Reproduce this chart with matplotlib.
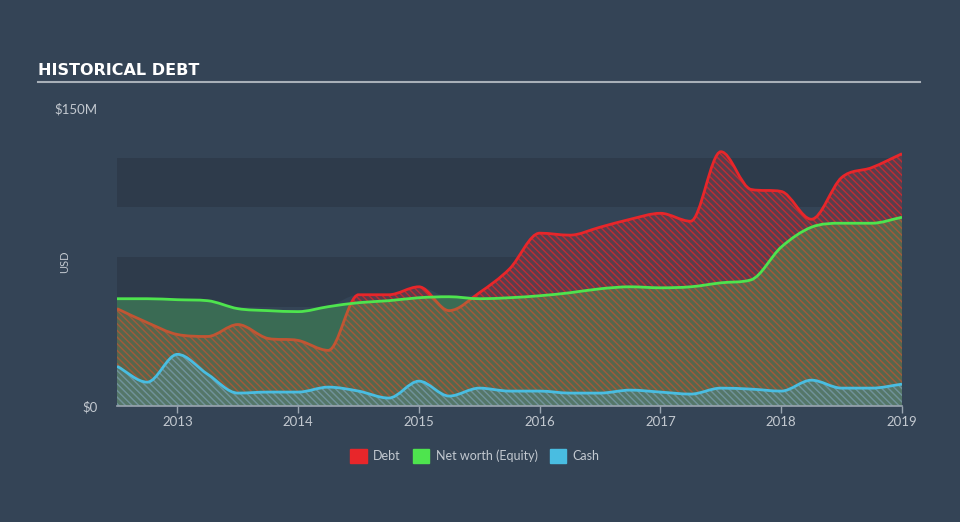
import matplotlib
matplotlib.use("Agg")
import matplotlib.pyplot as plt
import numpy as np
from matplotlib.path import Path
from matplotlib.patches import PathPatch, Patch

# quarterly readings, $M
dates = [2012.5, 2012.75, 2013.0, 2013.25, 2013.5, 2013.75, 2014.0, 2014.25, 2014.5,
         2014.75, 2015.0, 2015.25, 2015.5, 2015.75, 2016.0, 2016.25, 2016.5, 2016.75,
         2017.0, 2017.25, 2017.5, 2017.75, 2018.0, 2018.25, 2018.5, 2018.75, 2019.0]
debt = [49, 42, 36, 35, 41, 34, 33, 28, 56, 56, 60, 48, 57, 69, 87, 86, 90, 94,
        97, 93, 128, 109, 108, 94, 115, 120, 127]
equity = [54, 54, 53.5, 53, 49, 48, 47.5, 50, 52, 53, 54.5, 55, 54, 54.5, 55.5, 57,
          59, 60, 59.5, 60, 62, 63.5, 80, 90, 92, 92, 95]
cash = [20, 12, 26, 16, 6.5, 7, 7, 9.5, 7.5, 4, 12.5, 5, 9, 7.5, 7.5, 6.5, 6.5, 8,
        7, 6, 9, 8.5, 7.5, 13, 9, 9, 11]
years = [2013, 2014, 2015, 2016, 2017, 2018, 2019]
series_names = ["Debt", "Net worth (Equity)", "Cash"]

BG = "#344456"
BAND = "#2e3b4b"
TXT = "#c3c9d0"
RED, GREEN, BLUE = "#e8262a", "#4ee44e", "#49bde1"
plt.rcParams["font.family"] = ["Lato", "DejaVu Sans"]
plt.rcParams["hatch.linewidth"] = 1.0


def smooth_path(x, y, closed=False):
    # monotone cubic (no overshoot) drawn as bezier segments
    x = np.asarray(x, float)
    y = np.asarray(y, float)
    h = np.diff(x)
    s = np.diff(y) / h
    m = np.zeros_like(y)
    m[0], m[-1] = s[0], s[-1]
    for i in range(1, len(y) - 1):
        if s[i - 1] * s[i] > 0:
            m[i] = (s[i - 1] * h[i] + s[i] * h[i - 1]) / (h[i - 1] + h[i])
            lim = 3 * min(abs(s[i - 1]), abs(s[i]))
            m[i] = np.sign(m[i]) * min(abs(m[i]), lim)
    verts = [(x[0], y[0])]
    codes = [Path.MOVETO]
    for i in range(len(x) - 1):
        d = h[i] / 3
        verts += [(x[i] + d, y[i] + m[i] * d), (x[i + 1] - d, y[i + 1] - m[i + 1] * d),
                  (x[i + 1], y[i + 1])]
        codes += [Path.CURVE4] * 3
    if closed:
        verts += [(x[-1], 0), (x[0], 0), (x[0], y[0])]
        codes += [Path.LINETO, Path.LINETO, Path.CLOSEPOLY]
    return Path(verts, codes)


fig = plt.figure(figsize=(9.6, 5.22), dpi=100, facecolor=BG)
ax = fig.add_axes([117 / 960, 1 - 406 / 522, 785 / 960, 298 / 522])
ax.set_facecolor(BG)
ax.set_xlim(dates[0], dates[-1])
ax.set_ylim(0, 150)

for lo in (0, 50, 100):
    ax.axhspan(lo, lo + 25, color=BAND, lw=0, zorder=0)

# opaque base so the bands don't show through the areas
ax.add_patch(PathPatch(smooth_path(dates, np.maximum(debt, equity), True),
                       facecolor=BG, lw=0, zorder=1))

# debt area + line
ax.add_patch(PathPatch(smooth_path(dates, debt, True), facecolor=(0.91, 0.15, 0.16, 0.22),
                       edgecolor=(0.91, 0.15, 0.16, 0.7), hatch="\\\\\\\\\\", lw=0, zorder=2))
ax.add_patch(PathPatch(smooth_path(dates, debt), fill=False, edgecolor=RED, lw=2, zorder=3))
# equity
ax.add_patch(PathPatch(smooth_path(dates, equity, True), facecolor=(0.31, 0.89, 0.31, 0.25),
                       lw=0, zorder=4))
ax.add_patch(PathPatch(smooth_path(dates, equity), fill=False, edgecolor=GREEN, lw=2, zorder=5))
# cash
ax.add_patch(PathPatch(smooth_path(dates, cash, True), facecolor=(0.29, 0.74, 0.88, 0.2),
                       edgecolor=(0.29, 0.74, 0.88, 0.5), hatch="\\\\\\\\\\", lw=0, zorder=6))
ax.add_patch(PathPatch(smooth_path(dates, cash), fill=False, edgecolor=BLUE, lw=2, zorder=7))

for s in ("top", "right", "left"):
    ax.spines[s].set_visible(False)
ax.spines["bottom"].set_color("#9aa5b1")
ax.spines["bottom"].set_linewidth(1.2)
ax.spines["bottom"].set_zorder(8)
ax.set_xticks(years)
ax.set_xticklabels([str(y) for y in years])
ax.tick_params(axis="x", colors="#9aa5b1", labelcolor=TXT, labelsize=9.5, length=5, width=1, pad=2)
ax.set_yticks([0, 150])
ax.set_yticklabels(["$0", "$150M"])
ax.tick_params(axis="y", length=0, labelcolor=TXT, labelsize=9.5, pad=14)
fig.text(65 / 960, 1 - 262 / 522, "USD", color=TXT, fontsize=8, rotation=90,
         ha="center", va="center")

fig.text(38 / 960, 1 - 75 / 522, "HISTORICAL DEBT", color="white", fontsize=11.5,
         fontweight="bold", family="DejaVu Sans")
fig.add_artist(plt.Line2D([38 / 960, 920 / 960], [1 - 82 / 522] * 2, color="#a8b0b8", lw=1.5))

handles = [Patch(color=c) for c in (RED, GREEN, BLUE)]
fig.legend(handles, series_names, loc="center", bbox_to_anchor=(475 / 960, 1 - 456 / 522),
           ncol=3, frameon=False, fontsize=9, labelcolor=TXT, handlelength=1.3,
           handleheight=1.3, columnspacing=1.0, handletextpad=0.5)

fig.savefig("out.png", dpi=100, facecolor=BG)
